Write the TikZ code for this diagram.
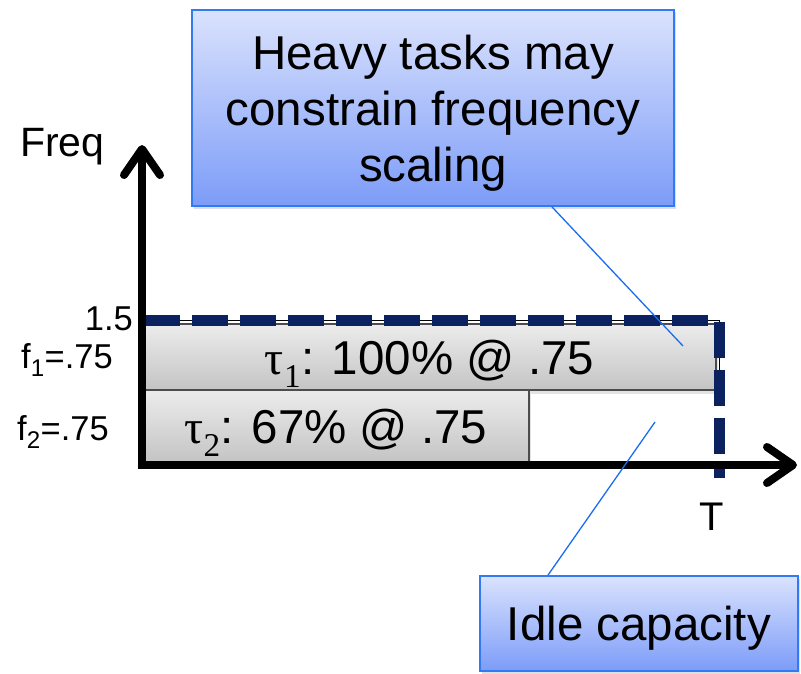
\documentclass[tikz,border=0pt]{standalone}
\usepackage{fontspec}
\setmainfont{Liberation Sans}
\newfontfamily\greekserif{Liberation Serif}
\usetikzlibrary{arrows.meta,shadows}

\definecolor{navy}{RGB}{12,33,96}
\definecolor{calltop}{RGB}{218,226,253}
\definecolor{callbot}{RGB}{124,156,248}
\definecolor{callborder}{RGB}{50,122,244}
\definecolor{linkblue}{RGB}{26,108,240}
\definecolor{bartop}{RGB}{236,236,236}
\definecolor{barbot}{RGB}{196,196,196}

\tikzset{
  bigtext/.style={font=\fontsize{47.5}{56}\selectfont},
  callout/.style={draw=callborder, line width=1.8pt, top color=calltop,
    bottom color=callbot, inner sep=0pt, bigtext, align=center,
    text depth=0pt,
    drop shadow={opacity=0.25, shadow xshift=1.5pt, shadow yshift=-2.5pt}},
  taskbar/.style={draw=black!70, line width=1.2pt, top color=bartop,
    bottom color=barbot, inner sep=0pt, bigtext,
    text height=34pt, text depth=0pt,
    drop shadow={opacity=0.22, shadow xshift=1.5pt, shadow yshift=-4pt}},
  pointer/.style={draw=linkblue, line width=1.3pt},
  axis/.style={line width=8pt,
    {Straight Barb[length=26pt, width=36pt, round]}-{Straight Barb[length=26pt, width=36pt, round]}},
  capline/.style={navy, line width=11pt, dash pattern=on 36pt off 12pt},
  smalllabel/.style={inner sep=0pt, font=\fontsize{34.5}{36}\selectfont},
}

\begin{document}
\begin{tikzpicture}[x=1pt, y=-1pt]
\useasboundingbox (0,0) rectangle (801,674);

% task bars
\node[taskbar, minimum width=573pt, minimum height=66pt] (tau1) at (429.5,357)
  {{\greekserif τ\textsubscript{1}}: 100\% @ .75};
\node[taskbar, minimum width=386pt, minimum height=72pt] (tau2) at (336,426)
  {{\greekserif τ\textsubscript{2}}: 67\% @ .75};

% capacity outline at frequency 1.5
\coordinate (capL) at (143,320);
\coordinate (capR) at (719,320);
\coordinate (capB) at (719,390);
\draw[black, line width=1pt] (capL) -- (capR) -- (capB);
\coordinate (dashL) at (144,320);
\coordinate (dashR) at (708,320);
\coordinate (dashT) at (719,322);
\coordinate (dashD) at (719,478);
\draw[capline] (dashL) -- (dashR);
\draw[capline] (dashT) -- (dashD);

% axes
\coordinate (o) at (142,465);
\coordinate (ytip) at (142,145);
\coordinate (xtip) at (797,465);
\draw[axis] (ytip) -- (o) -- (xtip);

% axis labels
\node[inner sep=0pt, anchor=base west, font=\fontsize{41}{44}\selectfont] (freq) at (20,157) {Freq};
\node[inner sep=0pt, anchor=base, font=\fontsize{40}{42}\selectfont] (tlab) at (712,530) {T};
\node[smalllabel, anchor=base east] (onefive) at (133,330) {1.5};
\node[smalllabel, anchor=base west] (f1) at (21,368) {f\textsubscript{1}=.75};
\node[smalllabel, anchor=base west] (f2) at (17,440) {f\textsubscript{2}=.75};

% callouts
\node[callout, text height=148pt, minimum width=482pt, minimum height=196pt] (heavy) at (433,108)
  {Heavy tasks may\\constrain frequency\\scaling};
\node[callout, text height=34pt, minimum width=318pt, minimum height=95pt] (idle) at (639,623.5)
  {Idle capacity};

\coordinate (heavytip) at (683,346);
\coordinate (idletip) at (655,422);
\draw[pointer] ([xshift=119pt]heavy.south) -- (heavytip);
\draw[pointer] ([xshift=-91pt]idle.north) -- (idletip);
\end{tikzpicture}
\end{document}
